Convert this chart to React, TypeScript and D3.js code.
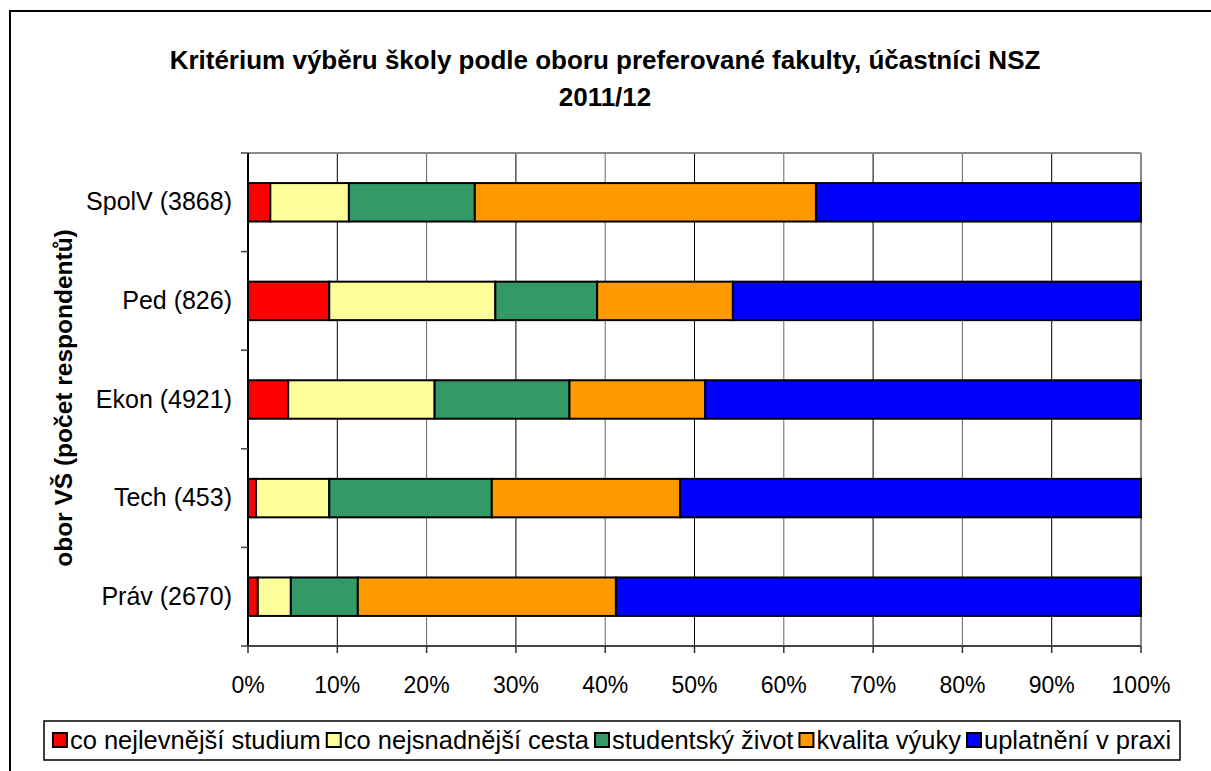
import React from "react";
import * as d3 from "d3";

const categories = ["SpolV (3868)", "Ped (826)", "Ekon (4921)", "Tech (453)", "Práv (2670)"];
const seriesNames = ["co nejlevnější studium", "co nejsnadnější cesta", "studentský život", "kvalita výuky", "uplatnění v praxi"];
const seriesColors = ["#FF0000", "#FFFF99", "#339966", "#FF9900", "#0000FF"];
// percentages per category (SpolV, Ped, Ekon, Tech, Práv)
const cheapest = [2.5, 9.1, 4.5, 0.9, 1.1];
const easiest = [8.8, 18.6, 16.4, 8.2, 3.7];
const studentLife = [14.1, 11.4, 15.1, 18.2, 7.5];
const quality = [38.2, 15.2, 15.2, 21.1, 28.9];
const employment = [36.4, 45.7, 48.8, 51.6, 58.8];
const tickValues = [0, 10, 20, 30, 40, 50, 60, 70, 80, 90, 100];
const titleLines = ["Kritérium výběru školy podle oboru preferované fakulty, účastníci NSZ", "2011/12"];
const yTitle = "obor VŠ (počet respondentů)";

const W = 1211, H = 771;
const FONT = "'Liberation Sans', Arial, sans-serif";

export default function App() {
  const left = 248, right = 1141, top = 153, bottom = 646;
  const x = d3.scaleLinear().domain([0, 100]).range([left, right]);
  const y = d3.scaleBand<string>().domain(categories).range([top, bottom]).paddingInner(0.61).paddingOuter(0.305);
  const step = (bottom - top) / categories.length;
  const series = [cheapest, easiest, studentLife, quality, employment];
  const rows = categories.map((c, i) => {
    const r: any = { cat: c };
    seriesNames.forEach((s, j) => (r[s] = series[j][i]));
    return r;
  });
  const stack = d3.stack<any>().keys(seriesNames)(rows);

  // legend layout
  const legendFont = 25.5;
  const ctx = document.createElement("canvas").getContext("2d")!;
  ctx.font = `${legendFont}px ${FONT}`;
  const sq = 14, gapSq = 3, gapItem = 6;
  const widths = seriesNames.map((s) => sq + gapSq + ctx.measureText(s).width);
  const total = widths.reduce((a, b) => a + b, 0) + gapItem * (seriesNames.length - 1);
  const lgLeft = 44, lgRight = 1180, lgTop = 721, lgBottom = 760;
  let cx = (lgLeft + lgRight) / 2 - total / 2;
  const legendItems = seriesNames.map((s, i) => {
    const item = { s, x: cx, color: seriesColors[i] };
    cx += widths[i] + gapItem;
    return item;
  });

  return (
    <svg width={W} height={H} style={{ position: "absolute", left: 0, top: 0, fontFamily: FONT }}>
      <rect x={0} y={0} width={W} height={H} fill="#fff" />
      <rect x={10} y={11} width={W + 10} height={H + 10} fill="none" stroke="#000" strokeWidth={2} />
      {titleLines.map((t, i) => (
        <text key={i} x={605} y={69 + i * 37} textAnchor="middle" fontSize={26} fontWeight="bold" fill="#000">{t}</text>
      ))}
      {/* grid */}
      {tickValues.filter((v) => v > 0 && v < 100).map((v, i) => (
        <line key={v} x1={x(v)} x2={x(v)} y1={top} y2={bottom} stroke={i % 2 === 0 ? "#000" : "#666"} strokeWidth={1} />
      ))}
      <line x1={left} x2={right} y1={top} y2={top} stroke="#888" strokeWidth={2} />
      <line x1={right} x2={right} y1={top} y2={bottom} stroke="#888" strokeWidth={2} />
      {/* bars */}
      {stack.map((layer, j) => (
        <g key={j}>
          {layer.map((d, i) => (
            <rect key={i} x={x(d[0])} y={y(categories[i])!} width={x(d[1]) - x(d[0])} height={y.bandwidth()} fill={seriesColors[j]} stroke="#000" strokeWidth={2} />
          ))}
        </g>
      ))}
      {/* axes */}
      <line x1={left} x2={left} y1={top} y2={bottom} stroke="#000" strokeWidth={2} />
      <line x1={left} x2={right} y1={bottom} y2={bottom} stroke="#444" strokeWidth={2} />
      {d3.range(categories.length + 1).map((k) => (
        <line key={k} x1={left - 7} x2={left} y1={top + k * step} y2={top + k * step} stroke="#444" strokeWidth={1.5} />
      ))}
      {tickValues.map((v) => (
        <g key={v}>
          <line x1={x(v)} x2={x(v)} y1={bottom} y2={bottom + 7} stroke="#333" strokeWidth={1.5} />
          <text x={x(v)} y={693} textAnchor="middle" fontSize={23} fill="#000">{v}%</text>
        </g>
      ))}
      {categories.map((c) => (
        <text key={c} x={232} y={y(c)! + y.bandwidth() / 2 + 8} textAnchor="end" fontSize={25} fill="#000">{c}</text>
      ))}
      <text transform={`translate(72,398) rotate(-90)`} textAnchor="middle" fontSize={24.5} fontWeight="bold" fill="#000">{yTitle}</text>
      {/* legend */}
      <rect x={lgLeft} y={lgTop} width={lgRight - lgLeft} height={lgBottom - lgTop} fill="#fff" stroke="#000" strokeWidth={1.5} />
      {legendItems.map((it) => (
        <g key={it.s}>
          <rect x={it.x} y={733} width={sq} height={sq} fill={it.color} stroke="#000" strokeWidth={2} />
          <text x={it.x + sq + gapSq} y={749} fontSize={legendFont} fill="#000">{it.s}</text>
        </g>
      ))}
    </svg>
  );
}
